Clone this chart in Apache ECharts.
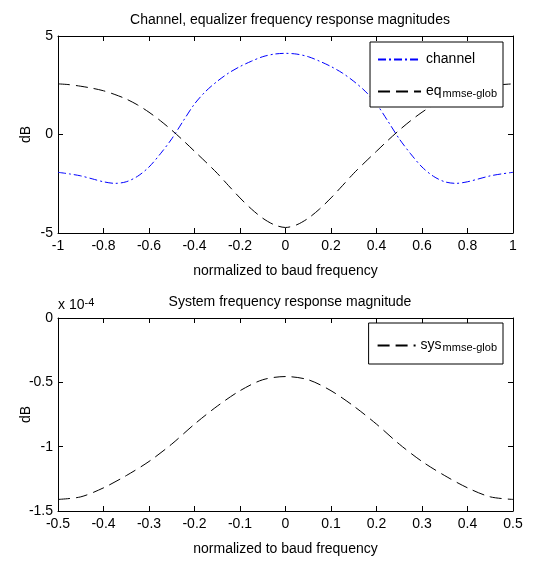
<!DOCTYPE html>
<html><head><meta charset="utf-8">
<script src="https://cdn.jsdelivr.net/npm/echarts@6/dist/echarts.min.js"></script>
<style>html,body{margin:0;padding:0;background:#fff}#c{width:542px;height:561px}</style>
</head><body><div id="c"></div>
<script>
// ---- data ----
var freq1 = [-1,-0.95,-0.9,-0.85,-0.8,-0.75,-0.7,-0.65,-0.6,-0.55,-0.5,-0.45,-0.4,-0.35,-0.3,-0.25,-0.2,-0.15,-0.1,-0.05,0,
  0.05,0.1,0.15,0.2,0.25,0.3,0.35,0.4,0.45,0.5,0.55,0.6,0.65,0.7,0.75,0.8,0.85,0.9,0.95,1];
var channelDb = [-1.92,-2.0,-2.1,-2.25,-2.4,-2.48,-2.4,-2.12,-1.65,-0.98,-0.22,0.68,1.55,2.2,2.7,3.12,3.45,3.72,3.95,4.08,4.12,
  4.08,3.95,3.72,3.45,3.12,2.7,2.2,1.55,0.68,-0.22,-0.98,-1.65,-2.12,-2.4,-2.48,-2.4,-2.25,-2.1,-2.0,-1.92];
var eqDb = [2.57,2.53,2.45,2.35,2.22,2.03,1.8,1.5,1.13,0.7,0.22,-0.3,-0.85,-1.4,-1.97,-2.6,-3.22,-3.78,-4.25,-4.58,-4.72,
  -4.58,-4.25,-3.78,-3.22,-2.6,-1.97,-1.4,-0.85,-0.3,0.22,0.7,1.13,1.5,1.8,2.03,2.22,2.35,2.45,2.53,2.57];
var freq2 = [-0.5,-0.45,-0.4,-0.35,-0.3,-0.25,-0.2,-0.15,-0.1,-0.05,0,0.05,0.1,0.15,0.2,0.25,0.3,0.35,0.4,0.45,0.5];
var sysDb = [-1.41,-1.39,-1.32,-1.225,-1.115,-0.98,-0.825,-0.685,-0.565,-0.48,-0.455,
  -0.48,-0.565,-0.685,-0.825,-0.98,-1.115,-1.225,-1.32,-1.39,-1.41]; // x 1e-4
var title1 = 'Channel, equalizer frequency response magnitudes';
var title2 = 'System frequency response magnitude';
var xName = 'normalized to baud frequency';
var yName = 'dB';

function pairs(xs, ys){ return xs.map(function(x,i){return [x, ys[i]];}); }

var FONT = '"Liberation Sans", Arial, sans-serif';
var FS = 14;
var txt = {fontFamily: FONT, fontSize: FS, color: '#000'};
var BLUE = '#0000ff', BLACK = '#000';
var DASHDOT = [8,3,2,3], DASH = [12,6];

function xAx(gi, min, max, iv, main){
  return {
    type:'value', gridIndex: gi, min:min, max:max, interval:iv, position: main?'bottom':'top',
    axisLine:{show:true, onZero:false, lineStyle:{color:'#000', width:1}},
    axisTick:{show:true, inside:true, length:5, lineStyle:{color:'#000'}},
    axisLabel:{show:main, margin:6, fontFamily:FONT, fontSize:FS, color:'#000'},
    splitLine:{show:false},
    name: main? xName : '', nameLocation:'middle', nameGap:31, nameTextStyle: txt
  };
}
function yAx(gi, min, max, iv, main){
  return {
    type:'value', gridIndex: gi, min:min, max:max, interval:iv, position: main?'left':'right',
    axisLine:{show:true, onZero:false, lineStyle:{color:'#000', width:1}},
    axisTick:{show:true, inside:true, length:5, lineStyle:{color:'#000'}},
    axisLabel:{show:main, margin:5, fontFamily:FONT, fontSize:FS, color:'#000'},
    splitLine:{show:false},
    name: main? yName : '', nameLocation:'middle', nameGap:25, nameMoveOverlap:false, nameTextStyle: txt
  };
}
var richSub = {a:{fontFamily:FONT, fontSize:FS, lineHeight:15, verticalAlign:'top'},
               b:{fontFamily:FONT, fontSize:11, lineHeight:12, padding:[8,0,0,1], verticalAlign:'bottom'}};

var chart = echarts.init(document.getElementById('c'), null, {renderer:'canvas'});
chart.setOption({
  animation:false,
  backgroundColor:'#fff',
  title:[
    {text:title1, left:285, top:8, textAlign:'center', textStyle:{fontFamily:FONT, fontSize:FS, fontWeight:'normal', color:'#000'}},
    {text:title2, left:285, top:290, textAlign:'center', textStyle:{fontFamily:FONT, fontSize:FS, fontWeight:'normal', color:'#000'}}
  ],
  grid:[
    {left:58, width:455, top:36, height:197, outerBoundsMode:'none', containLabel:false},
    {left:58, width:455, top:318, height:193, outerBoundsMode:'none', containLabel:false}
  ],
  xAxis:[xAx(0,-1,1,0.2,true), xAx(0,-1,1,0.2,false), xAx(1,-0.5,0.5,0.1,true), xAx(1,-0.5,0.5,0.1,false)],
  yAxis:[yAx(0,-5,5,5,true), yAx(0,-5,5,5,false), yAx(1,-1.5,0,0.5,true), yAx(1,-1.5,0,0.5,false)],
  legend:[
    {data:['channel','eq'], right:39, top:42, orient:'vertical',
     itemWidth:43, itemHeight:10, itemGap:14, itemStyle:{opacity:0},
     padding:[10,6,8,7], borderColor:'#000', borderWidth:1, backgroundColor:'#fff',
     formatter:function(n){ return n==='eq' ? '{a|eq}{b|mmse-glob}' : '{a|'+n+'}'; },
     textStyle:{fontFamily:FONT, fontSize:FS, color:'#000', rich:richSub}},
    {data:['sys'], right:39, top:323, orient:'vertical', itemWidth:38, itemHeight:10, itemStyle:{opacity:0},
     padding:[11,6,11,8], borderColor:'#000', borderWidth:1, backgroundColor:'#fff',
     formatter:function(n){ return '{a|sys}{b|mmse-glob}'; },
     textStyle:{fontFamily:FONT, fontSize:FS, color:'#000', rich:richSub}}
  ],
  graphic:[
    {type:'text', left:58, top:292, style:{text:'{a|x 10}{b|-4}', rich:{
      a:{fontFamily:FONT, fontSize:FS, fill:'#000', lineHeight:15, padding:[6,0,0,0], verticalAlign:'bottom'},
      b:{fontFamily:FONT, fontSize:11, fill:'#000', lineHeight:11, verticalAlign:'top'}}}}
  ],
  series:[
    {name:'channel', type:'line', xAxisIndex:0, yAxisIndex:0, data:pairs(freq1, channelDb), smooth:0.3, symbol:'none',
     lineStyle:{color:BLUE, width:1, type:DASHDOT}, itemStyle:{color:BLUE}},
    {name:'eq', type:'line', xAxisIndex:0, yAxisIndex:0, data:pairs(freq1, eqDb), smooth:0.3, symbol:'none',
     lineStyle:{color:BLACK, width:1, type:DASH}, itemStyle:{color:BLACK}},
    {name:'sys', type:'line', xAxisIndex:2, yAxisIndex:2, data:pairs(freq2, sysDb), smooth:0.3, symbol:'none',
     lineStyle:{color:BLACK, width:1, type:DASH}, itemStyle:{color:BLACK}}
  ]
});
</script></body></html>
